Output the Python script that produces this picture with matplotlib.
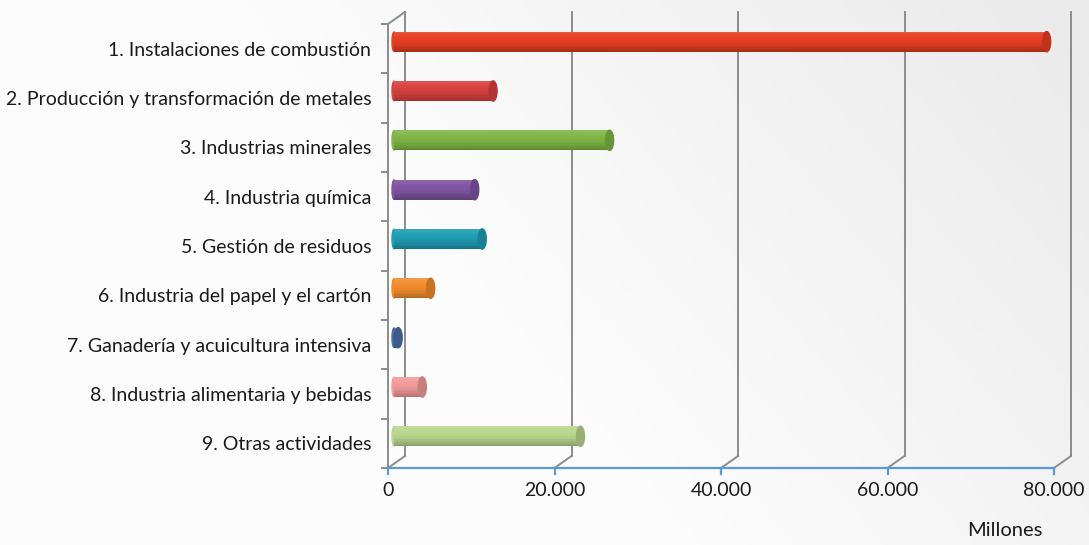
import numpy as np
import matplotlib.pyplot as plt
from matplotlib.patches import Ellipse
from matplotlib.colors import to_rgb

# categories and values (millones)
categorias = [
    "1. Instalaciones de combustión",
    "2. Producción y transformación de metales",
    "3. Industrias minerales",
    "4. Industria química",
    "5. Gestión de residuos",
    "6. Industria del papel y el cartón",
    "7. Ganadería y acuicultura intensiva",
    "8. Industria alimentaria y bebidas",
    "9. Otras actividades",
]
valores = [78400, 11900, 25900, 9700, 10600, 4400, 500, 3400, 22400]
colores = ["#E63E22", "#D9413F", "#7EB545", "#8054A2", "#1E9DB3",
           "#F28C2E", "#4A6EA8", "#F29B9A", "#B8D78E"]
xticks = [0, 20000, 40000, 60000, 80000]
xtick_labels = ["0", "20.000", "40.000", "60.000", "80.000"]

plt.rcParams['font.family'] = ['Lato', 'DejaVu Sans']

fig = plt.figure(figsize=(10.89, 5.45), dpi=100)

# soft grey background gradient
bg = fig.add_axes([0, 0, 1, 1], zorder=-10)
gx, gy = np.meshgrid(np.linspace(0, 1, 300), np.linspace(0, 1, 150))
g = np.clip((gx * 1.2 + gy * 0.5 - 0.75) / 0.9, 0, 1)
shade = 0.99 - 0.07 * g
bg.imshow(np.dstack([shade, shade, shade]), aspect='auto', extent=[0, 1, 0, 1],
          origin='lower')
bg.axis('off')

ax = fig.add_axes([388 / 1089, 77 / 545, 666 / 1089, 444 / 545])
ax.patch.set_alpha(0)
n = len(categorias)
ax.set_xlim(0, 80000)
ax.set_ylim(n - 0.5, -0.5)
for s in ax.spines.values():
    s.set_visible(False)

# 3d depth offset in data units (~17px right, ~12px up)
dx = 17 * 80000 / 666
dy = 12 * n / 444
grid_col = "#8c8c8c"

# back walls / gridlines
for xt in xticks:
    ax.plot([xt, xt + dx], [n - 0.5, n - 0.5 - dy], color=grid_col, lw=1.4,
            clip_on=False, zorder=1)
    ax.plot([xt + dx, xt + dx], [n - 0.5 - dy, -0.5 - dy], color=grid_col,
            lw=1.4, clip_on=False, zorder=1)
# left front edge + top edge of side wall
ax.plot([0, 0], [n - 0.5, -0.5], color=grid_col, lw=1.4, clip_on=False, zorder=1)
ax.plot([0, dx], [-0.5, -0.5 - dy], color=grid_col, lw=1.4, clip_on=False, zorder=1)
# category boundary ticks on the left
for b in np.arange(-0.5, n, 1.0):
    ax.plot([-700, 0], [b, b], color=grid_col, lw=1.4, clip_on=False, zorder=1)

# x axis (blue)
ax.plot([0, 80000], [n - 0.5, n - 0.5], color="#5B9BD5", lw=1.6,
        clip_on=False, zorder=2)
for xt in xticks:
    ax.plot([xt, xt], [n - 0.5, n - 0.5 + 0.12], color="#5B9BD5", lw=1.6,
            clip_on=False, zorder=2)


def tone(c, f):
    r = np.array(to_rgb(c))
    if f < 0:
        return tuple(r * (1 + f))
    return tuple(r + (1 - r) * f)


# cylinder-like bars, drawn at mid depth
bx = 6 * 80000 / 666
by = 7 * n / 444
h = 0.41
cap = 8 * 80000 / 666
m = 14
for i, (v, c) in enumerate(zip(valores, colores)):
    y = i - by
    ax.add_patch(Ellipse((bx, y), cap * 0.5, h * 0.96, color=c, zorder=3.9))
    # vertical shading: light near top, darker at the bottom edge
    for k in range(m):
        t = (k + 0.5) / m          # 0 = top, 1 = bottom
        f = 0.12 * (1 - t / 0.35) if t < 0.35 else -0.28 * ((t - 0.35) / 0.65) ** 1.6
        yc = y - h / 2 + (k + 0.5) * h / m
        ax.barh(yc, v, left=bx, height=h / m * 1.05, color=tone(c, f),
                linewidth=0, zorder=4)
    ax.add_patch(Ellipse((bx + v, y), cap, h, color=tone(c, -0.18), zorder=6))

ax.set_yticks(range(n))
ax.set_yticklabels(categorias, fontsize=14, color="#1a1a1a")
ax.tick_params(axis='y', length=0, pad=12)
ax.set_xticks(xticks)
ax.set_xticklabels(xtick_labels, fontsize=14, color="#1a1a1a")
ax.tick_params(axis='x', length=0, pad=10)

fig.text(1005 / 1089, 15 / 545, "Millones", fontsize=14.5, color="#1a1a1a",
         ha='center', va='center')

fig.savefig("out.png", dpi=100)
